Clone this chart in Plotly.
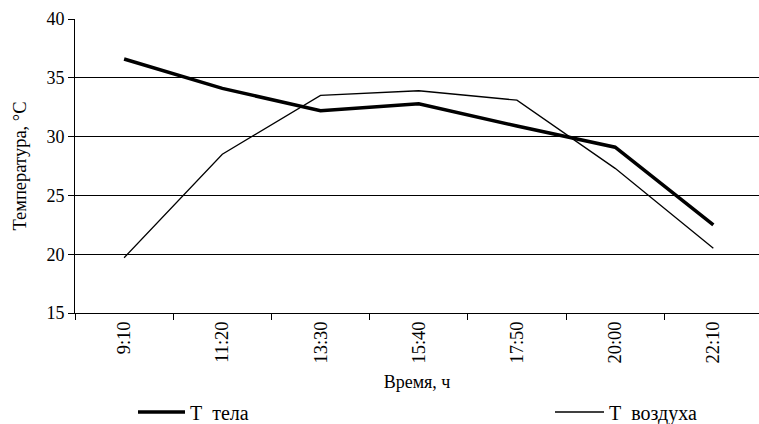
import plotly.graph_objects as go

times = ["9:10", "11:20", "13:30", "15:40", "17:50", "20:00", "22:10"]
t_body = [36.6, 34.1, 32.2, 32.8, 30.9, 29.1, 22.5]
t_air = [19.7, 28.5, 33.5, 33.9, 33.1, 27.3, 20.5]

FONT = "'Liberation Serif', 'Times New Roman', 'DejaVu Serif', serif"

fig = go.Figure()
fig.add_trace(go.Scatter(x=times, y=t_body, mode="lines", name="Т\u00a0\u00a0тела",
                         line=dict(color="black", width=3.5), legend="legend"))
fig.add_trace(go.Scatter(x=times, y=t_air, mode="lines", name="Т\u00a0\u00a0воздуха",
                         line=dict(color="black", width=1.3), legend="legend2"))

fig.update_layout(
    width=759, height=424,
    margin=dict(l=75, r=0, t=19, b=111, autoexpand=False),
    paper_bgcolor="white", plot_bgcolor="white",
    font=dict(family=FONT, size=18, color="black"),
    xaxis=dict(
        type="category", range=[-0.5, 6.465], automargin=False,
        tickson="boundaries", ticks="outside", ticklen=6, tickcolor="black",
        tickangle=-90, showline=True, linecolor="black", linewidth=1,
        showgrid=False, zeroline=False,
        title=dict(text="Время, ч", standoff=20, font=dict(family=FONT, size=18)),
        tickfont=dict(family=FONT, size=18.5),
    ),
    yaxis=dict(
        range=[15, 40], dtick=5, ticks="outside", ticklen=6, tickcolor="black",
        automargin=False,
        showline=True, linecolor="black", linewidth=1,
        showgrid=True, gridcolor="black", gridwidth=1, zeroline=False,
        title=dict(text="Температура, °C", standoff=14, font=dict(family=FONT, size=18.5)),
        tickfont=dict(family=FONT, size=18),
    ),
    legend=dict(orientation="h", x=133 / 759, xanchor="left", xref="container",
                y=1 - 412 / 424, yref="container", yanchor="middle",
                itemwidth=47,
                font=dict(family=FONT, size=20), bgcolor="rgba(0,0,0,0)"),
    legend2=dict(orientation="h", x=550 / 759, xanchor="left", xref="container",
                 y=1 - 412 / 424, yref="container", yanchor="middle",
                 itemwidth=49,
                 font=dict(family=FONT, size=20), bgcolor="rgba(0,0,0,0)"),
    showlegend=True,
)

fig.write_html("out.html", config={"displayModeBar": False},
               post_script="document.body.style.margin='0';document.body.style.padding='0';")
